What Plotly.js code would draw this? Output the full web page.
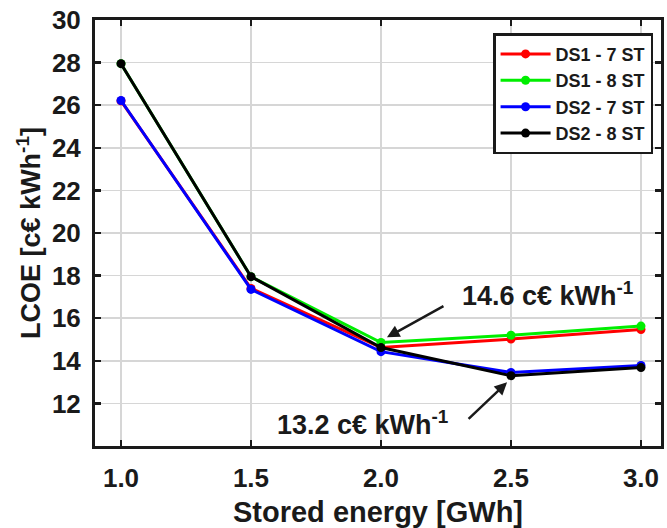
<!DOCTYPE html>
<html>
<head>
<meta charset="utf-8">
<script src="https://cdn.plot.ly/plotly-3.0.1.min.js"></script>
<style>html,body{margin:0;padding:0;background:#fff;}#chart{width:667px;height:528px;}</style>
</head>
<body>
<div id="chart"></div>
<script>
const storedEnergy = [1.0, 1.5, 2.0, 2.5, 3.0];
const seriesNames = ["DS1 - 7 ST", "DS1 - 8 ST", "DS2 - 7 ST", "DS2 - 8 ST"];
const ds1_7st = [26.2, 17.4, 14.62, 15.02, 15.47];
const ds1_8st = [27.95, 17.95, 14.86, 15.2, 15.63];
const ds2_7st = [26.22, 17.35, 14.43, 13.45, 13.78];
const ds2_8st = [27.95, 17.95, 14.62, 13.3, 13.68];
const seriesColors = ["#ff0000", "#00ee00", "#0000ff", "#000000"];
const yTicks = [12, 14, 16, 18, 20, 22, 24, 26, 28, 30];
const xTicks = [1.0, 1.5, 2.0, 2.5, 3.0];
const xTickLabels = ["1.0", "1.5", "2.0", "2.5", "3.0"];
const label1 = "14.6 c€ kWh<sup>-1</sup>";
const label2 = "13.2 c€ kWh<sup>-1</sup>";

const font = "Liberation Sans, Arial, sans-serif";
const allSeries = [ds1_7st, ds1_8st, ds2_7st, ds2_8st];
const traces = allSeries.map((ys, i) => ({
  x: storedEnergy, y: ys, name: seriesNames[i], type: "scatter", mode: "lines+markers",
  line: {color: seriesColors[i], width: 3},
  marker: {color: seriesColors[i], size: 9}
}));

const axisCommon = {
  showline: true, mirror: "ticks", linecolor: "#1a1a1a", linewidth: 3,
  ticks: "inside", ticklen: 6, tickwidth: 2.5, tickcolor: "#1a1a1a",
  showgrid: true, gridcolor: "#d6d6d6", gridwidth: 1.5, zeroline: false,
  tickfont: {family: font, size: 26, color: "#1a1a1a", weight: "bold"}
};

const layout = {
  width: 667, height: 528,
  margin: {l: 95, r: 6, t: 20, b: 82},
  paper_bgcolor: "#fff", plot_bgcolor: "#fff",
  font: {family: font, color: "#1a1a1a"},
  xaxis: Object.assign({}, axisCommon, {
    range: [0.9, 3.077], tickvals: xTicks, ticktext: xTickLabels,
    ticklabelstandoff: 7,
    title: {text: "Stored energy [GWh]", font: {family: font, size: 29, color: "#1a1a1a", weight: "bold"}, standoff: 10}
  }),
  yaxis: Object.assign({}, axisCommon, {
    range: [10, 30], tickvals: yTicks,
    ticklabelstandoff: 6,
    title: {text: "LCOE [c€ kWh<sup>-1</sup>]", font: {family: font, size: 27, color: "#1a1a1a", weight: "bold"}, standoff: 4}
  }),
  showlegend: true,
  legend: {
    x: 0.986, y: 0.969, xanchor: "right", yanchor: "top",
    bgcolor: "#fff", bordercolor: "#1a1a1a", borderwidth: 2.5,
    font: {family: font, size: 18, color: "#1a1a1a", weight: "bold"},
    tracegroupgap: 0, itemwidth: 50
  },
  annotations: [
    {x: 2.023, y: 15.1, xref: "x", yref: "y", ax: 58, ay: -32, showarrow: true, arrowhead: 2, arrowsize: 1, arrowwidth: 2.5, arrowcolor: "#1a1a1a", text: ""},
    {x: 2.64, y: 17.15, xref: "x", yref: "y", showarrow: false, text: label1, font: {family: font, size: 27, color: "#1a1a1a", weight: "bold"}},
    {x: 2.485, y: 12.99, xref: "x", yref: "y", ax: -40, ay: 38, showarrow: true, arrowhead: 2, arrowsize: 1, arrowwidth: 2.5, arrowcolor: "#1a1a1a", text: ""},
    {x: 1.93, y: 11.06, xref: "x", yref: "y", showarrow: false, text: label2, font: {family: font, size: 27, color: "#1a1a1a", weight: "bold"}}
  ]
};

Plotly.newPlot("chart", traces, layout, {displayModeBar: false, staticPlot: true});
</script>
</body>
</html>
